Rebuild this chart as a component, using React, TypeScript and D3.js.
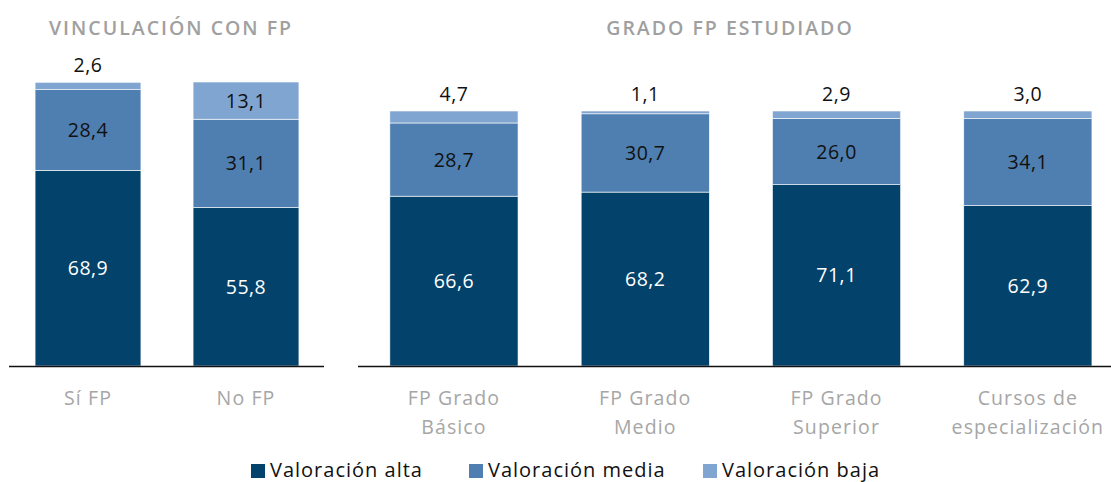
import React from "react";
import * as d3 from "d3";

const leftCats = ["Sí FP", "No FP"];
const rightCats = ["FP Grado|Básico", "FP Grado|Medio", "FP Grado|Superior", "Cursos de|especialización"];
const seriesNames = ["Valoración alta", "Valoración media", "Valoración baja"];
const leftAlta = [68.9, 55.8];
const leftMedia = [28.4, 31.1];
const leftBaja = [2.6, 13.1];
const rightAlta = [66.6, 68.2, 71.1, 62.9];
const rightMedia = [28.7, 30.7, 26.0, 34.1];
const rightBaja = [4.7, 1.1, 2.9, 3.0];
const colors = ["#03426b", "#4e7fb0", "#81a5d1"];
const textColors = ["#ffffff", "#111111", "#111111"];
const FONT = "'Open Sans', Lato, sans-serif";

const fmt = (v: number) => v.toFixed(1).replace(".", ",");

function Panel({ cats, series, x0, x1, yTop, title, titleX, axisFrom, axisTo }: any) {
  const base = 366;
  const x = d3.scaleBand<string>().domain(cats).range([x0, x1]).paddingInner(0.33).paddingOuter(0.165);
  const y = d3.scaleLinear().domain([0, 100]).range([base, yTop]);
  const rows = cats.map((c: string, i: number) => {
    const o: any = { cat: c };
    seriesNames.forEach((s, k) => (o[s] = series[k][i]));
    return o;
  });
  const stack = d3.stack<any>().keys(seriesNames)(rows);
  return (
    <g>
      <text x={titleX} y={35} textAnchor="middle" fill="#a0a0a0" fontSize={19.5} fontWeight={600} fontFamily={FONT} letterSpacing={2}>
        {title}
      </text>
      {stack.map((layer, k) =>
        layer.map((d, i) => {
          const c = cats[i];
          const xx = x(c)!;
          const h = y(d[0]) - y(d[1]);
          const v = series[k][i];
          const small = v < 6;
          const ly = small ? y(d[1]) - 10 : (y(d[0]) + y(d[1])) / 2 + 7;
          return (
            <g key={k + "-" + i}>
              <rect x={xx} y={y(d[1])} width={x.bandwidth()} height={h} fill={colors[k]} stroke="#ffffff" strokeWidth={0.6} />
              <text x={xx + x.bandwidth() / 2} y={ly} textAnchor="middle" fill={small ? "#111111" : textColors[k]} fontSize={19.5} fontFamily={FONT} letterSpacing={0.5}>
                {fmt(v)}
              </text>
            </g>
          );
        })
      )}
      <line x1={axisFrom} x2={axisTo} y1={base + 0.5} y2={base + 0.5} stroke="#111" strokeWidth={1.5} />
      {cats.map((c: string) => {
        const lines = c.split("|");
        return (
          <text key={c} textAnchor="middle" fill="#a6a6a6" fontSize={19.5} fontFamily={FONT} letterSpacing={1.1}>
            {lines.map((ln, j) => (
              <tspan key={j} x={x(c)! + x.bandwidth() / 2} y={405 + j * 29}>
                {ln}
              </tspan>
            ))}
          </text>
        );
      })}
    </g>
  );
}

export default function App() {
  const legendX = [251, 469, 703];
  return (
    <svg width={1111} height={482} style={{ position: "absolute", left: 0, top: 0, background: "#fff" }}>
      <Panel cats={leftCats} series={[leftAlta, leftMedia, leftBaja]} x0={9} x1={325} yTop={82} title="VINCULACIÓN CON FP" titleX={171} axisFrom={9} axisTo={324} />
      <Panel cats={rightCats} series={[rightAlta, rightMedia, rightBaja]} x0={358.3} x1={1123.5} yTop={111} title="GRADO FP ESTUDIADO" titleX={730} axisFrom={358} axisTo={1111} />
      {seriesNames.map((s, k) => (
        <g key={s}>
          <rect x={legendX[k]} y={464} width={14} height={14} fill={colors[k]} />
          <text x={legendX[k] + 19} y={477} fill="#111" fontSize={20} fontFamily={FONT} letterSpacing={1}>
            {s}
          </text>
        </g>
      ))}
    </svg>
  );
}
